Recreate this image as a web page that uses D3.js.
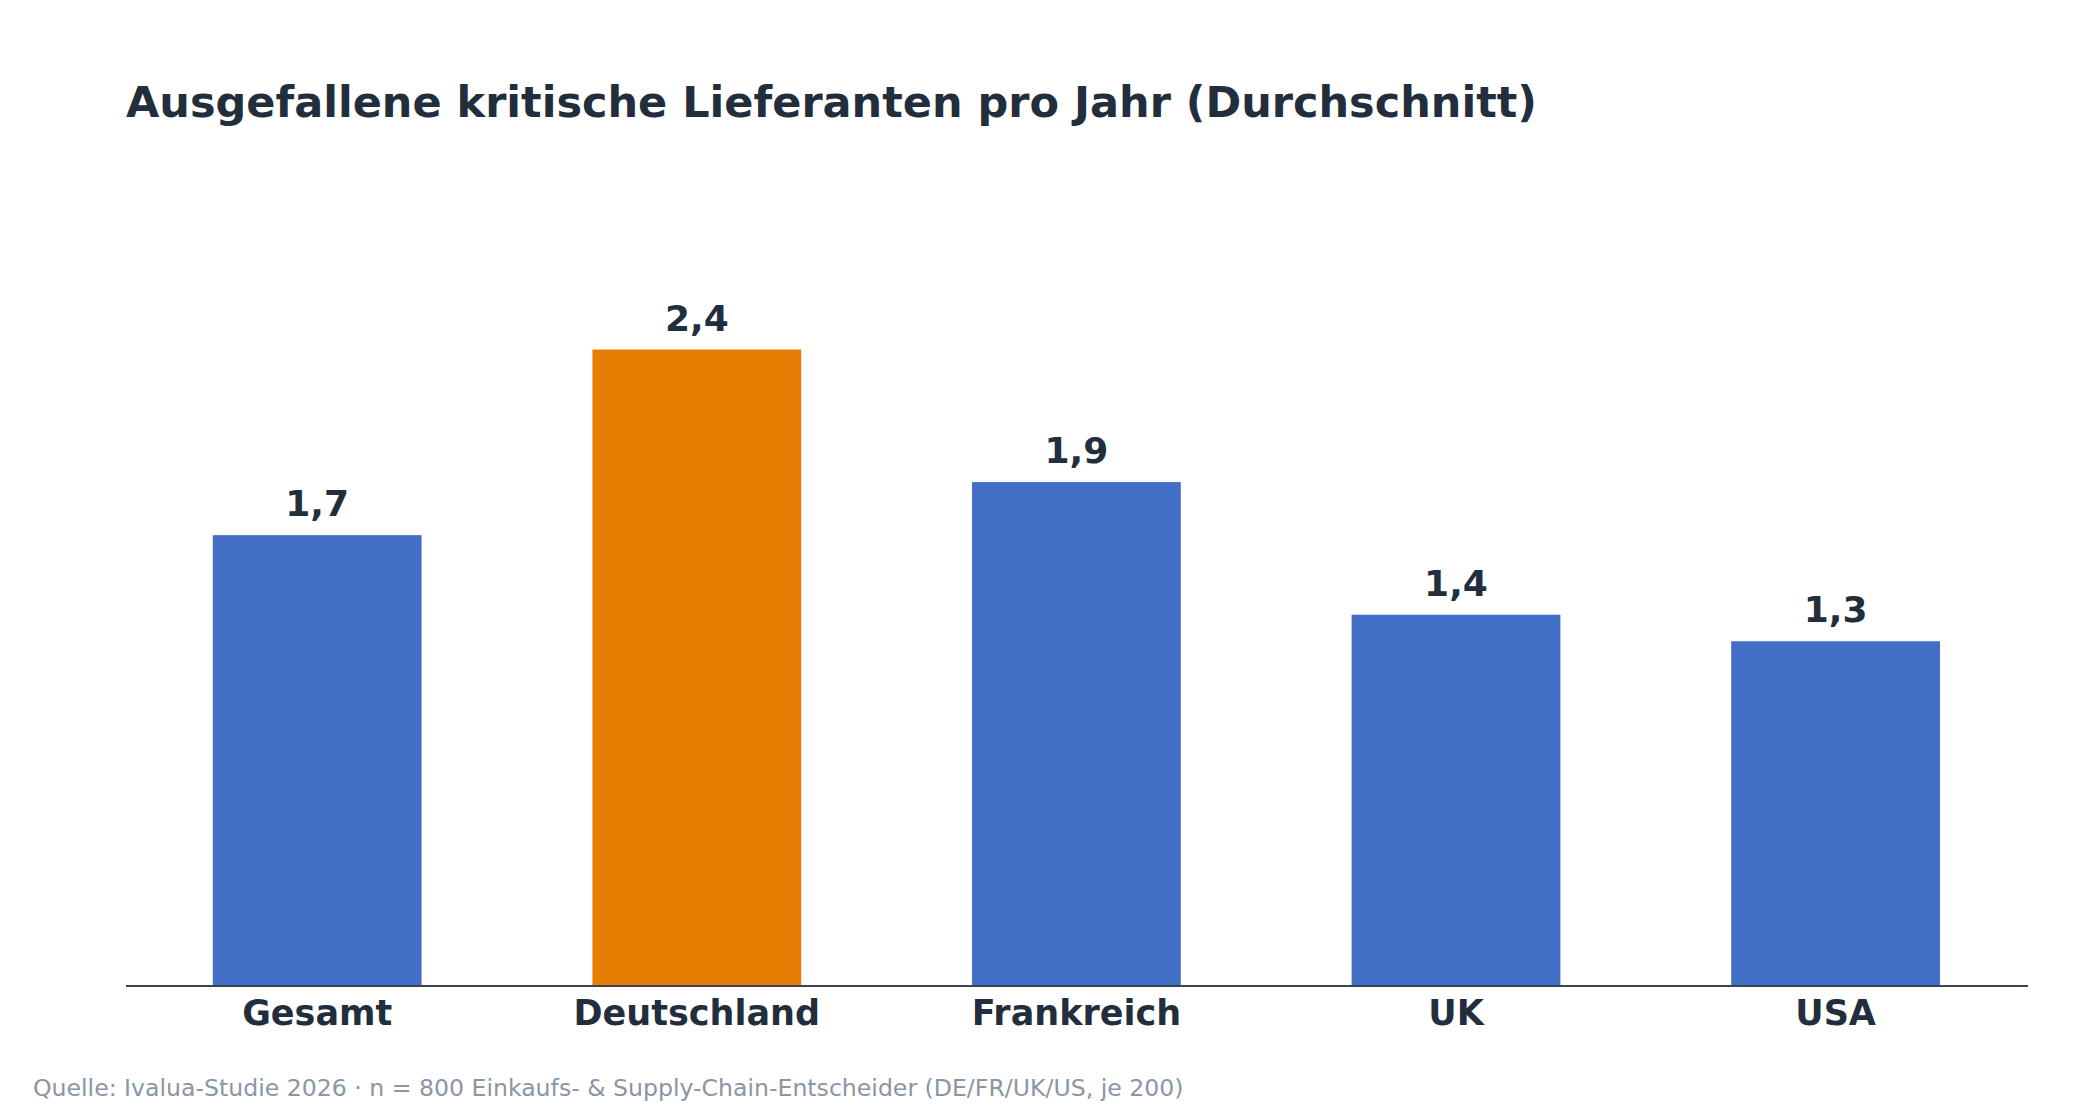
<!DOCTYPE html>
<html>
<head>
<meta charset="utf-8">
<script src="https://cdn.jsdelivr.net/npm/d3@7"></script>
<style>
  body { margin: 0; background: #fff; }
  svg { display: block; font-family: "DejaVu Sans", sans-serif; }
</style>
</head>
<body>
<div id="container"></div>
<script>
// DATA
const categories = ["Gesamt", "Deutschland", "Frankreich", "UK", "USA"];
const values = [1.7, 2.4, 1.9, 1.4, 1.3];
const highlight = "Deutschland";

const title = "Ausgefallene kritische Lieferanten pro Jahr (Durchschnitt)";
const source = "Quelle: Ivalua-Studie 2026 · n = 800 Einkaufs- & Supply-Chain-Entscheider (DE/FR/UK/US, je 200)";

// VARIABLES
const width = 2100;
const height = 1120;
const margin = {left: 126, right: 72, bottom: 986};
const textColor = "#222e3b";

const data = categories.map((c, i) => ({category: c, value: values[i]}));

// SCALES
const x = d3.scaleBand()
  .domain(categories)
  .range([127.4, 2025.4])
  .paddingInner(0.45)
  .paddingOuter(0.225);

const y = d3.scaleLinear()
  .domain([0, 2.88])
  .range([margin.bottom, margin.bottom - 2.88 * 265.2]);

// SVG
const svg = d3.select("#container")
  .append("svg")
  .attr("width", width)
  .attr("height", height);

svg.append("rect")
  .attr("width", width)
  .attr("height", height)
  .attr("fill", "#fff");

// title
svg.append("text")
  .attr("x", 126)
  .attr("y", 117)
  .attr("font-size", 43)
  .attr("font-weight", "bold")
  .attr("fill", textColor)
  .text(title);

// bars
svg.selectAll("rect.bar")
  .data(data)
  .join("rect")
  .attr("class", "bar")
  .attr("x", d => x(d.category))
  .attr("y", d => y(d.value))
  .attr("width", x.bandwidth())
  .attr("height", d => y(0) - y(d.value))
  .attr("fill", d => d.category === highlight ? "#e57e02" : "#436ec5");

// value labels
svg.selectAll("text.val")
  .data(data)
  .join("text")
  .attr("class", "val")
  .attr("x", d => x(d.category) + x.bandwidth() / 2)
  .attr("y", d => y(d.value) - 19)
  .attr("text-anchor", "middle")
  .attr("font-size", 36)
  .attr("font-weight", "bold")
  .attr("fill", textColor)
  .text(d => d3.format(".1f")(d.value).replace(".", ","));

// x axis
const xAxis = svg.append("g")
  .attr("transform", `translate(0,${margin.bottom})`)
  .call(d3.axisBottom(x).tickSize(0).tickPadding(14));

// baseline runs the full plot width
xAxis.select(".domain")
  .attr("d", `M${margin.left},0H${width - margin.right}`)
  .attr("stroke", "#3a4450")
  .attr("stroke-width", 2);

xAxis.selectAll(".tick text")
  .attr("font-family", "DejaVu Sans, sans-serif")
  .attr("font-size", 35)
  .attr("font-weight", "bold")
  .attr("fill", textColor)
  .attr("dy", "0.71em");

// source
svg.append("text")
  .attr("x", 33)
  .attr("y", 1096)
  .attr("font-size", 23.6)
  .attr("fill", "#8a96a3")
  .text(source);
</script>
</body>
</html>
